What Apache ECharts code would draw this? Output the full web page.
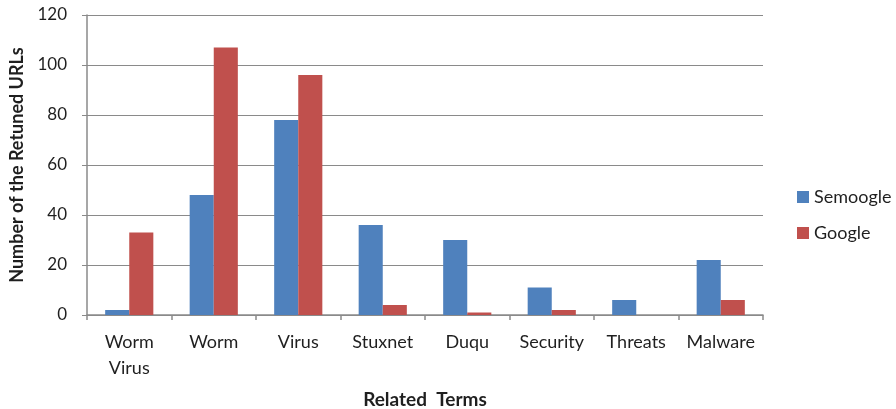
<!DOCTYPE html>
<html>
<head>
<meta charset="utf-8">
<script src="https://cdn.jsdelivr.net/npm/echarts@6/dist/echarts.min.js"></script>
<style>
html,body{margin:0;padding:0;background:#fff;}
#chart{width:896px;height:409px;}
</style>
</head>
<body>
<div id="chart"></div>
<script>
const categories = ["Worm\nVirus", "Worm", "Virus", "Stuxnet", "Duqu", "Security", "Threats", "Malware"];
const semoogle = [2, 48, 78, 36, 30, 11, 6, 22];
const google = [33, 107, 96, 4, 1, 2, 0, 6];
const yTicks = { min: 0, max: 120, interval: 20 };

const FONT = "Lato";
const TXT = "#1f1f1f";
const GRID = "#8a8a8a";

const chart = echarts.init(document.getElementById('chart'), null, { renderer: 'canvas' });
chart.setOption({
  animation: false,
  backgroundColor: '#ffffff',
  textStyle: { fontFamily: FONT },
  color: ['#4F81BD', '#C0504D'],
  grid: { left: 87, right: 133, top: 15, bottom: 94, containLabel: false, outerBoundsMode: 'none' },
  legend: {
    orient: 'vertical',
    left: 792,
    top: 183,
    itemWidth: 12,
    itemHeight: 12,
    itemGap: 18,
    icon: 'rect',
    textStyle: { fontFamily: FONT, fontSize: 18, color: TXT },
    data: ['Semoogle', 'Google']
  },
  xAxis: {
    type: 'category',
    data: categories,
    name: 'Related  Terms',
    nameLocation: 'middle',
    nameGap: 75,
    nameTextStyle: { fontFamily: FONT, fontSize: 19, fontWeight: 'bold', color: TXT, verticalAlign: 'top' },
    axisLine: { lineStyle: { color: GRID, width: 1.5 } },
    axisTick: { show: true, alignWithLabel: false, length: 5, lineStyle: { color: GRID, width: 1.5 } },
    axisLabel: { fontFamily: FONT, fontSize: 18, color: TXT, margin: 14, lineHeight: 26, interval: 0 }
  },
  yAxis: {
    type: 'value',
    min: yTicks.min,
    max: yTicks.max,
    interval: yTicks.interval,
    name: 'Number of the Retuned URLs',
    nameLocation: 'middle',
    nameGap: 56,
    nameTextStyle: { fontFamily: FONT, fontSize: 18, fontWeight: 'bold', color: TXT },
    axisLine: { show: true, lineStyle: { color: GRID, width: 1.5 } },
    axisTick: { show: true, length: 5, lineStyle: { color: GRID, width: 1 } },
    axisLabel: { fontFamily: FONT, fontSize: 17, color: TXT, margin: 20 },
    splitLine: { show: true, lineStyle: { color: GRID, width: 1 } }
  },
  series: [
    { name: 'Semoogle', type: 'bar', data: semoogle, barGap: '0%', barCategoryGap: '43%' },
    { name: 'Google', type: 'bar', data: google, barGap: '0%', barCategoryGap: '43%' }
  ]
});
</script>
</body>
</html>
